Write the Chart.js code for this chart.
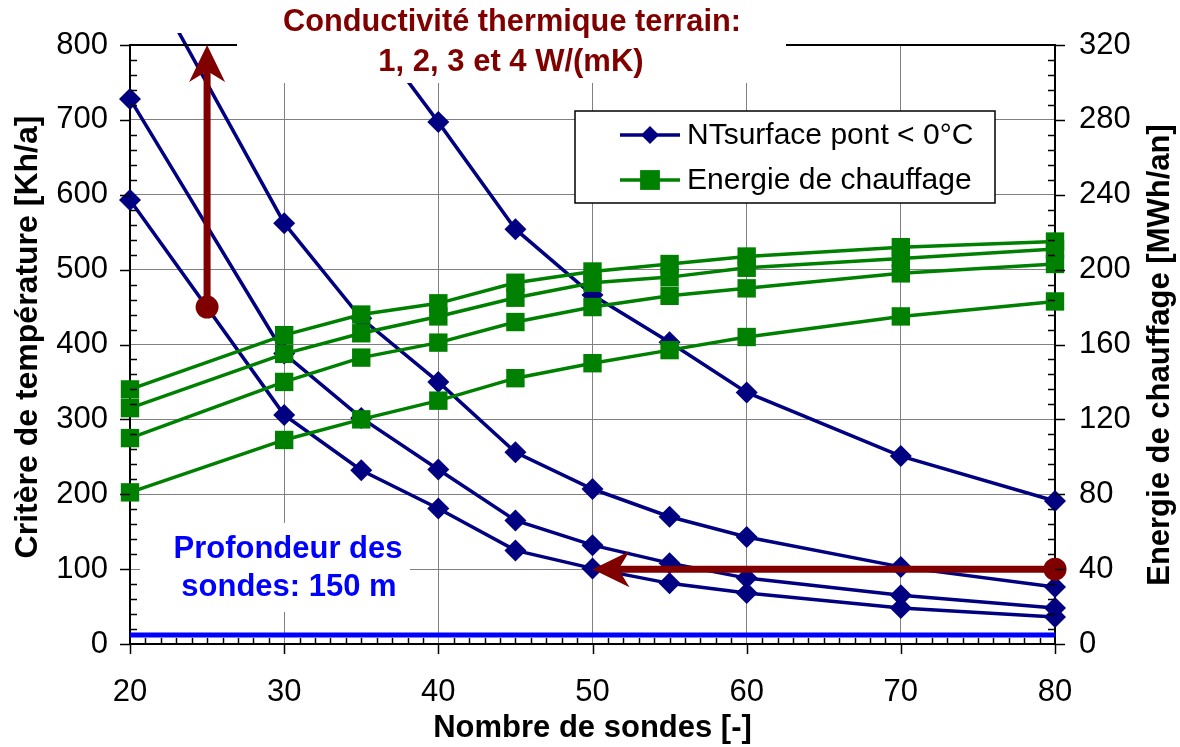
<!DOCTYPE html>
<html>
<head>
<meta charset="utf-8">
<script src="https://cdn.jsdelivr.net/npm/chart.js@4.4.1/dist/chart.umd.min.js"></script>
<style>
  html, body { margin: 0; padding: 0; background: #fff; }
  canvas { display: block; }
</style>
</head>
<body>
<canvas id="chart" width="1180" height="747"></canvas>
<script>
const FONT = "'Liberation Sans', Arial, sans-serif";

// nombre de sondes (axe x)
const sondes = [20, 30, 35, 40, 45, 50, 55, 60, 70, 80];

// NTsurface pont < 0°C [Kh/a], une courbe par conductivité (1..4 W/(mK))
const ntCond1 = [1800, 1090, 835, 697, 554, 466, 403, 336, 251, 191];
const ntCond2 = [935, 562, 435, 350, 256, 207, 170, 143, 103, 76];
const ntCond3 = [728, 388, 302, 233, 165, 132, 108, 88, 65, 48];
const ntCond4 = [593, 306, 232, 181, 125, 101, 81, 68, 48, 36];

// Energie de chauffage [MWh/an]
const enCond4 = [136, 165, 176, 182, 193, 199, 203, 207, 212, 215];
const enCond3 = [126, 155, 166, 175, 185, 193, 196, 201, 206, 211];
const enCond2 = [110, 140, 153, 161, 172, 180, 186, 190, 198, 203];
const enCond1 = [81, 109, 120, 130, 142, 150, 157, 164, 175, 183];

// limite horizontale (bleu) en Kh/a
const limiteX = [20, 80];
const limiteY = [12, 12];

// flèches rouges (valeurs en unités du graphique)
const flecheCondX = [25, 25];
const flecheCondY = [450, 800];
const flecheSondesX = [80, 50];
const flecheSondesY = [100, 100];

const pts = (xs, ys) => xs.map((v, i) => ({ x: v, y: ys[i] }));

const BLUE = "#000080";
const GREEN = "#008000";
const RED = "#800000";
const clipBox = { left: 15, top: 12, right: 15, bottom: 15 };

function green(data) {
  return {
    data: pts(sondes, data), yAxisID: "y2",
    borderColor: GREEN, backgroundColor: GREEN, borderWidth: 3.5,
    pointStyle: "rect", pointRadius: 13, pointBorderWidth: 0,
    tension: 0, clip: clipBox,
  };
}
function blue(data) {
  return {
    data: pts(sondes, data), yAxisID: "y",
    borderColor: BLUE, backgroundColor: BLUE, borderWidth: 3.5,
    pointStyle: "rectRot", pointRadius: 11, pointBorderWidth: 0,
    tension: 0, clip: clipBox,
  };
}

function arrow(ctx, x0, y0, x1, y1) {
  const dx = x1 - x0, dy = y1 - y0;
  const len = Math.hypot(dx, dy);
  const ux = dx / len, uy = dy / len;
  const px = -uy, py = ux;
  ctx.save();
  ctx.strokeStyle = RED;
  ctx.fillStyle = RED;
  ctx.lineWidth = 7;
  ctx.beginPath();
  ctx.moveTo(x0, y0);
  ctx.lineTo(x1 - ux * 20, y1 - uy * 20);
  ctx.stroke();
  ctx.beginPath();
  ctx.moveTo(x1, y1);
  ctx.lineTo(x1 - ux * 37 + px * 18, y1 - uy * 37 + py * 18);
  ctx.lineTo(x1 - ux * 26, y1 - uy * 26);
  ctx.lineTo(x1 - ux * 37 - px * 18, y1 - uy * 37 - py * 18);
  ctx.closePath();
  ctx.fill();
  ctx.beginPath();
  ctx.arc(x0, y0, 11.5, 0, Math.PI * 2);
  ctx.fill();
  ctx.restore();
}

const decor = {
  id: "decor",
  afterDatasetsDraw(chart) {
    const { ctx, chartArea: a, scales } = chart;
    const x = scales.x, y = scales.y;

    // cadre du haut
    ctx.save();
    ctx.strokeStyle = "#000";
    ctx.lineWidth = 2;
    ctx.beginPath();
    ctx.moveTo(a.left, a.top);
    ctx.lineTo(a.right, a.top);
    ctx.stroke();
    ctx.restore();

    arrow(ctx,
      x.getPixelForValue(flecheCondX[0]), y.getPixelForValue(flecheCondY[0]),
      x.getPixelForValue(flecheCondX[1]), y.getPixelForValue(flecheCondY[1]));
    arrow(ctx,
      x.getPixelForValue(flecheSondesX[0]), y.getPixelForValue(flecheSondesY[0]),
      x.getPixelForValue(flecheSondesX[1]), y.getPixelForValue(flecheSondesY[1]));

    // zone titre (conductivité)
    ctx.save();
    ctx.fillStyle = "#fff";
    ctx.fillRect(237, 0, 549, 83);
    ctx.fillStyle = RED;
    ctx.font = "bold 31px " + FONT;
    ctx.textAlign = "center";
    ctx.textBaseline = "middle";
    ctx.fillText("Conductivité thermique terrain:", 512, 22, 458);
    ctx.fillText("1, 2, 3 et 4 W/(mK)", 511, 62);

    // profondeur
    ctx.fillStyle = "#fff";
    ctx.fillRect(140, 523, 270, 89);
    ctx.fillStyle = "#0000ff";
    ctx.fillText("Profondeur des", 288, 549);
    ctx.fillText("sondes: 150 m", 289, 587);
    ctx.restore();

    // légende
    ctx.save();
    ctx.fillStyle = "#fff";
    ctx.fillRect(575, 111, 420, 92);
    ctx.strokeStyle = "#000";
    ctx.lineWidth = 1.5;
    ctx.strokeRect(575, 111, 420, 92);
    const rows = [
      { label: "NTsurface pont < 0°C", color: BLUE, style: "rectRot", r: 9, yy: 135 },
      { label: "Energie de chauffage", color: GREEN, style: "rect", r: 14, yy: 180 },
    ];
    rows.forEach(row => {
      ctx.strokeStyle = row.color;
      ctx.fillStyle = row.color;
      ctx.lineWidth = 3.5;
      ctx.beginPath();
      ctx.moveTo(620, row.yy);
      ctx.lineTo(680, row.yy);
      ctx.stroke();
      Chart.helpers.drawPoint(ctx, { pointStyle: row.style, radius: row.r, borderWidth: 0 }, 650, row.yy);
      ctx.fillStyle = "#000";
      ctx.font = "30px " + FONT;
      ctx.textAlign = "left";
      ctx.textBaseline = "middle";
      ctx.fillText(row.label, 687, row.yy + 1);
    });
    ctx.restore();
  },
  afterDraw(chart) {
    const { ctx, chartArea: a, scales } = chart;
    const x = scales.x, y = scales.y;
    ctx.save();
    ctx.strokeStyle = "#000";
    ctx.lineWidth = 1.5;
    ctx.beginPath();
    for (let v = 0; v <= 800; v += 20) {
      const py = Math.round(y.getPixelForValue(v)) + 0.5;
      if (v % 100 === 0) {
        ctx.moveTo(a.left - 10, py); ctx.lineTo(a.left, py);
        ctx.moveTo(a.right, py); ctx.lineTo(a.right + 10, py);
      } else {
        ctx.moveTo(a.left, py); ctx.lineTo(a.left + 7, py);
        ctx.moveTo(a.right - 7, py); ctx.lineTo(a.right, py);
      }
    }
    for (let v = 20; v <= 80; v += 1) {
      const px = Math.round(x.getPixelForValue(v)) + 0.5;
      if (v % 10 === 0) {
        ctx.moveTo(px, a.bottom); ctx.lineTo(px, a.bottom + 10);
      } else {
        ctx.moveTo(px, a.bottom - 6); ctx.lineTo(px, a.bottom);
      }
    }
    ctx.stroke();

    // titres des axes verticaux
    ctx.fillStyle = "#000";
    ctx.font = "bold 32px " + FONT;
    ctx.textAlign = "center";
    ctx.textBaseline = "middle";
    ctx.translate(28, 337);
    ctx.rotate(-Math.PI / 2);
    ctx.fillText("Critère de température [Kh/a]", 0, 0);
    ctx.setTransform(1, 0, 0, 1, 0, 0);
    ctx.font = "bold 31px " + FONT;
    ctx.translate(1160, 355);
    ctx.rotate(-Math.PI / 2);
    ctx.fillText("Energie de chauffage [MWh/an]", 0, 0);
    ctx.restore();
  },
};

const tickFont = { family: FONT, size: 31 };

new Chart(document.getElementById("chart"), {
  type: "line",
  data: {
    datasets: [
      green(enCond4), green(enCond3), green(enCond2), green(enCond1),
      blue(ntCond1), blue(ntCond2), blue(ntCond3), blue(ntCond4),
      {
        data: pts(limiteX, limiteY), yAxisID: "y",
        borderColor: "#0000ff", borderWidth: 5, pointRadius: 0, tension: 0,
      },
    ],
  },
  options: {
    responsive: false,
    animation: false,
    layout: { padding: { top: 45, left: 0, right: 0, bottom: 0 } },
    plugins: { legend: { display: false }, tooltip: { enabled: false } },
    scales: {
      x: {
        type: "linear", min: 20, max: 80,
        afterFit: s => { s.height = 103; },
        ticks: { stepSize: 10, font: tickFont, color: "#000", padding: 30, maxRotation: 0 },
        grid: { color: "#808080", lineWidth: 1, drawTicks: false },
        border: { color: "#000", width: 2 },
        title: {
          display: true, text: "Nombre de sondes [-]", color: "#000",
          font: { family: FONT, size: 31, weight: "bold" }, padding: { top: 0, bottom: 0 },
        },
      },
      y: {
        position: "left", min: 0, max: 800,
        afterFit: s => { s.width = 130; },
        ticks: { stepSize: 100, font: tickFont, color: "#000", padding: 22 },
        grid: { color: "#808080", lineWidth: 1, drawTicks: false },
        border: { color: "#000", width: 2 },
      },
      y2: {
        position: "right", min: 0, max: 320,
        afterFit: s => { s.width = 125; },
        ticks: { stepSize: 40, font: tickFont, color: "#000", padding: 24 },
        grid: { drawOnChartArea: false, drawTicks: false },
        border: { color: "#000", width: 2 },
      },
    },
  },
  plugins: [decor],
});
</script>
</body>
</html>
